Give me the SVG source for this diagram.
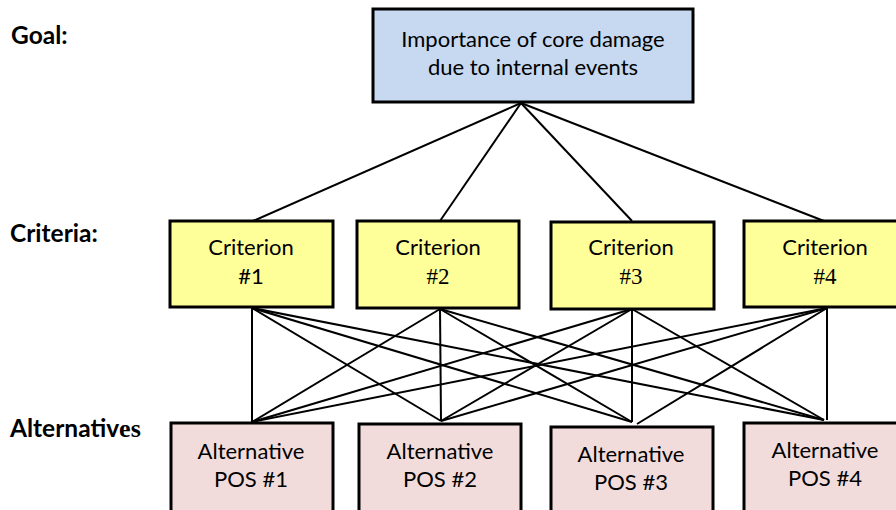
<svg xmlns="http://www.w3.org/2000/svg" width="896" height="510" viewBox="0 0 896 510">
<style>
.box{stroke:#000;stroke-width:3}
.goal{fill:#C6D9F1}
.crit{fill:#FFFF99}
.alt{fill:#F2DCDB}
.t{font-family:Lato,"Liberation Sans",sans-serif;font-size:22px;fill:#000;text-anchor:middle}
.s{font-family:"Liberation Serif",serif;font-size:23px}
.lbl{font-family:Lato,"Liberation Sans",sans-serif;font-size:24.5px;font-weight:bold;fill:#000}
.ls{font-family:"Liberation Serif",serif;font-size:26px}
.c{stroke:#000;stroke-width:2;fill:none}
</style>
<rect width="896" height="510" fill="#fff"/>
<g id="connectors" class="c">
<line x1="521" y1="103" x2="253" y2="221"/>
<line x1="521" y1="103" x2="440" y2="221"/>
<line x1="521" y1="103" x2="632" y2="221"/>
<line x1="521" y1="103" x2="824" y2="221"/>
<line x1="252" y1="308" x2="252" y2="422"/>
<line x1="252" y1="308" x2="441" y2="421"/>
<line x1="252" y1="308" x2="632" y2="422"/>
<line x1="252" y1="308" x2="824" y2="420"/>
<line x1="440" y1="309" x2="252" y2="422"/>
<line x1="440" y1="309" x2="441" y2="421"/>
<line x1="440" y1="309" x2="632" y2="422"/>
<line x1="440" y1="309" x2="824" y2="420"/>
<line x1="632" y1="309" x2="252" y2="422"/>
<line x1="632" y1="309" x2="441" y2="421"/>
<line x1="632" y1="309" x2="632" y2="422"/>
<line x1="632" y1="309" x2="824" y2="420"/>
<line x1="827" y1="308" x2="252" y2="422"/>
<line x1="827" y1="308" x2="441" y2="421"/>
<line x1="827" y1="308" x2="637" y2="424"/>
<line x1="827" y1="308" x2="827" y2="420"/>
</g>
<g id="label-goal"><text class="lbl" x="11" y="44">Goal:</text></g>
<g id="label-criteria"><text class="lbl" x="10" y="242">Criteria:</text></g>
<g id="label-alternatives"><text class="lbl" x="10" y="437">Alternativ<tspan class="ls">es</tspan></text></g>
<g id="goal">
<rect class="box goal" x="373" y="9" width="320" height="93"/>
<text class="t" x="533" y="47">Importance of core damage</text>
<text class="t" x="533" y="75">due to internal events</text>
</g>
<g id="criterion1">
<rect class="box crit" x="170" y="221" width="163" height="86"/>
<text class="t" x="251" y="255">Criterion</text>
<text class="t" x="251" y="284">#1</text>
</g>
<g id="criterion2">
<rect class="box crit" x="357" y="221" width="162" height="87"/>
<text class="t" x="438" y="255">Criterion</text>
<text class="t s" x="438" y="284">#2</text>
</g>
<g id="criterion3">
<rect class="box crit" x="551" y="222" width="163" height="87"/>
<text class="t" x="631" y="255">Criterion</text>
<text class="t s" x="631" y="284">#3</text>
</g>
<g id="criterion4">
<rect class="box crit" x="744" y="221" width="164" height="86"/>
<text class="t" x="825" y="255">Criterion</text>
<text class="t s" x="825" y="284">#4</text>
</g>
<g id="alternative1">
<rect class="box alt" x="171" y="423" width="162" height="90"/>
<text class="t" x="251" y="459">Alternative</text>
<text class="t" x="251" y="487">POS #1</text>
</g>
<g id="alternative2">
<rect class="box alt" x="359" y="424" width="162" height="90"/>
<text class="t" x="440" y="459">Alternative</text>
<text class="t" x="440" y="487">POS #2</text>
</g>
<g id="alternative3">
<rect class="box alt" x="551" y="427" width="162" height="90"/>
<text class="t" x="631" y="462">Alternative</text>
<text class="t" x="631" y="490">POS #3</text>
</g>
<g id="alternative4">
<rect class="box alt" x="744" y="423" width="164" height="90"/>
<text class="t" x="825" y="458">Alternative</text>
<text class="t" x="825" y="486">POS #4</text>
</g>
</svg>
